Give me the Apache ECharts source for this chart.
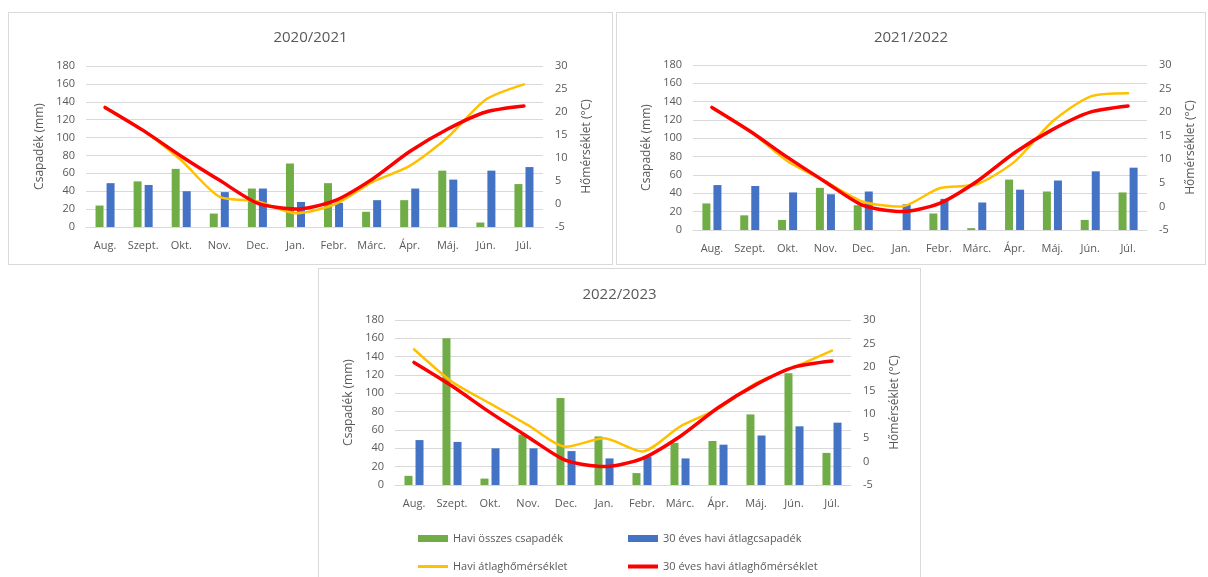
<!DOCTYPE html>
<html>
<head>
<meta charset="utf-8">
<script src="https://cdn.jsdelivr.net/npm/echarts@6/dist/echarts.min.js"></script>
<style>
  html, body { margin: 0; padding: 0; background: #fff; width: 1208px; height: 577px; overflow: hidden; }
  .box { position: absolute; border: 1px solid #d9d9d9; box-sizing: border-box; background: #fff; }
</style>
</head>
<body>
<div id="c1" class="box" style="left:8px;top:12px;width:605px;height:253px"></div>
<div id="c2" class="box" style="left:616px;top:12px;width:590px;height:253px"></div>
<div id="c3" class="box" style="left:318px;top:268px;width:603px;height:312px"></div>
<script>
// Months of the hydrological year (August to July)
const months = ['Aug.', 'Szept.', 'Okt.', 'Nov.', 'Dec.', 'Jan.', 'Febr.', 'Márc.', 'Ápr.', 'Máj.', 'Jún.', 'Júl.'];

// Left axis ticks (mm) and right axis ticks (°C)
const precipTicks = { min: 0, max: 180, step: 20 };
const tempTicks = { min: -5, max: 30, step: 5 };

// Series names
const seriesNames = ['Havi összes csapadék', '30 éves havi átlagcsapadék', 'Havi átlaghőmérséklet', '30 éves havi átlaghőmérséklet'];

// 2020/2021
const precip2021 = [24, 51, 65, 15, 43, 71, 49, 17, 30, 63, 5, 48];
const avgPrecip2021 = [49, 47, 40, 39, 43, 28, 27, 30, 43, 53, 63, 67];
const temp2021 = [21, 16, 9.5, 1.6, 0.6, -2, -0.2, 4.7, 8.3, 14.5, 22.7, 26];

// 2021/2022
const precip2122 = [29, 16, 11, 46, 27, 0, 18, 2, 55, 42, 11, 41];
const avgPrecip2122 = [49, 48, 41, 39, 42, 28, 34, 30, 44, 54, 64, 68];
const temp2122 = [21, 16, 9.6, 5.3, 1, 0, 3.8, 4.7, 9.5, 18, 23.3, 24];

// 2022/2023
const precip2223 = [10, 160, 7, 55, 95, 53, 13, 46, 48, 77, 122, 35];
const avgPrecip2223 = [49, 47, 40, 40, 37, 29, 31, 29, 44, 54, 64, 68];
const temp2223 = [23.8, 16.9, 12.3, 7.7, 3.1, 4.9, 2.1, 7.4, 11.2, 16.6, 20, 23.5];

// 30-year monthly mean temperature
const avgTemp = [21, 16, 10.4, 5.2, 0.2, -1.1, 0.6, 5.3, 11.4, 16.3, 20, 21.3];

const COLORS = ['#70AD47', '#4472C4', '#FFC000', '#FF0000'];
const TXT = '#595959';
const FONT = 'Open Sans';

function buildOption(title, precip, avgPrecip, temp, layout) {
  const opt = {
    animation: false,
    textStyle: { fontFamily: FONT },
    title: {
      text: title, left: 'center', top: layout.titleTop,
      textStyle: { color: TXT, fontSize: 15, fontWeight: 'normal', fontFamily: FONT }
    },
    grid: layout.grid,
    xAxis: {
      type: 'category', data: months,
      axisLine: { lineStyle: { color: '#d9d9d9' } },
      axisTick: { show: false },
      axisLabel: { color: TXT, fontSize: 11, margin: 13, interval: 0, fontFamily: FONT }
    },
    yAxis: [
      {
        type: 'value', min: precipTicks.min, max: precipTicks.max, interval: precipTicks.step,
        name: 'Csapadék (mm)', nameLocation: 'middle', nameRotate: 90, nameGap: layout.leftNameGap,
        nameTextStyle: { color: TXT, fontSize: 12, fontFamily: FONT },
        axisLine: { show: false }, axisTick: { show: false },
        axisLabel: { color: TXT, fontSize: 11, margin: 11, fontFamily: FONT },
        splitLine: { lineStyle: { color: '#d9d9d9' } }
      },
      {
        type: 'value', min: tempTicks.min, max: tempTicks.max, interval: tempTicks.step,
        name: 'Hőmérséklet (°C)', nameLocation: 'middle', nameRotate: 90, nameGap: layout.rightNameGap,
        nameTextStyle: { color: TXT, fontSize: 12, fontFamily: FONT },
        axisLine: { show: false }, axisTick: { show: false },
        axisLabel: { color: TXT, fontSize: 11, margin: 12, fontFamily: FONT },
        splitLine: { show: false }
      }
    ],
    series: [
      { name: seriesNames[0], type: 'bar', data: precip, barWidth: 8, barGap: '38%', itemStyle: { color: COLORS[0] } },
      { name: seriesNames[1], type: 'bar', data: avgPrecip, barWidth: 8, barGap: '38%', itemStyle: { color: COLORS[1] } },
      { name: seriesNames[2], type: 'line', yAxisIndex: 1, data: temp, smooth: 0.25, showSymbol: false,
        lineStyle: { color: COLORS[2], width: 2.5, cap: 'round', join: 'round' }, itemStyle: { color: COLORS[2] } },
      { name: seriesNames[3], type: 'line', yAxisIndex: 1, data: avgTemp, smooth: 0.25, showSymbol: false,
        lineStyle: { color: COLORS[3], width: 3.5, cap: 'round', join: 'round' }, itemStyle: { color: COLORS[3] } }
    ]
  };
  if (layout.legend) {
    const pos = layout.legend;
    opt.legend = seriesNames.map((n, i) => ({
      data: [n],
      left: pos.x[i % 2], top: pos.y[Math.floor(i / 2)],
      icon: 'rect', itemWidth: 30, itemHeight: i < 2 ? 7 : (i === 3 ? 4 : 3),
      itemGap: 4, selectedMode: false,
      textStyle: { color: TXT, fontSize: 11, fontFamily: FONT }
    }));
  }
  return opt;
}

const charts = [
  { id: 'c1', title: '2020/2021', p: precip2021, a: avgPrecip2021, t: temp2021,
    layout: { titleTop: 12, grid: { left: 77, right: 69, top: 53, bottom: 37 }, leftNameGap: 40, rightNameGap: 38 } },
  { id: 'c2', title: '2021/2022', p: precip2122, a: avgPrecip2122, t: temp2122,
    layout: { titleTop: 12, grid: { left: 76, right: 56, top: 52, bottom: 34 }, leftNameGap: 40, rightNameGap: 38 } },
  { id: 'c3', title: '2022/2023', p: precip2223, a: avgPrecip2223, t: temp2223,
    layout: { titleTop: 13, grid: { left: 76, right: 69, top: 51, bottom: 94 }, leftNameGap: 40, rightNameGap: 38,
      legend: { x: [94, 304], y: [259, 287] } } }
];

charts.forEach(c => {
  const chart = echarts.init(document.getElementById(c.id), null, { renderer: 'canvas' });
  chart.setOption(buildOption(c.title, c.p, c.a, c.t, c.layout));
});
</script>
</body>
</html>
